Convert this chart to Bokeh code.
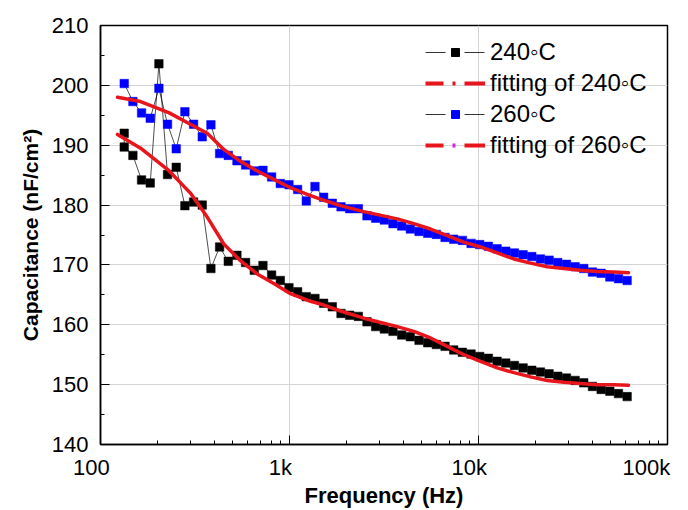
import math
from bokeh.plotting import figure
from bokeh.models import (Range1d, FixedTicker, CustomJSTickFormatter, Legend, LegendItem,
                          ColumnDataSource)
from bokeh.embed import file_html
from bokeh.resources import INLINE

# ---------------- data ----------------
freq = [133.5, 148.4, 164.9, 183.3, 203.7, 226.3, 251.6, 279.6, 310.8, 345.4,
        383.9, 426.7, 474.2, 527.1, 585.8, 651.1, 723.7, 804.3, 894.0, 993.4,
        1104, 1227, 1364, 1516, 1685, 1873, 2081, 2313, 2570, 2857,
        3175, 3529, 3922, 4359, 4845, 5385, 5985, 6653, 7393, 8218,
        9134, 10150, 11280, 12540, 13940, 15490, 17220, 19140, 21270, 23640,
        26270, 29200, 32450, 36060, 40090, 44550, 49520, 55040, 61160]

cap_240 = [192.0, 189.7, 188.3, 184.2, 183.7, 203.6, 185.1, 186.3, 179.9, 180.5, 180.0,
           169.4, 173.0, 170.6, 171.6, 170.4, 169.1, 169.9, 168.3, 167.4, 166.2,
           165.5, 164.7, 164.4, 163.6,
           163.0, 161.9, 161.6, 161.4, 160.5, 159.7, 159.3, 158.9, 158.3, 158.0,
           157.4, 157.0, 156.7, 156.4, 155.8, 155.4, 155.1, 154.7, 154.4, 153.9,
           153.6, 153.2, 152.8, 152.4, 152.1, 151.8, 151.4, 151.1, 150.7, 150.3,
           149.7, 149.2, 148.9, 148.5, 148.0]
freq_240 = freq[:1] + freq   # first frequency was measured twice

cap_260 = [200.3, 197.3, 195.4, 194.5, 199.5, 193.5, 189.4, 195.6, 193.5, 191.4,
           193.4, 188.6, 188.3, 187.4, 186.7, 185.7, 185.8, 184.7, 183.6, 183.4,
           182.6, 180.7, 183.1, 181.3,
           180.3, 179.7, 179.4, 179.4, 178.2, 177.8, 177.5, 176.9, 176.5, 176.0,
           175.6, 175.3, 175.1, 174.6, 174.3, 174.1, 173.6, 173.4, 173.1, 172.7,
           172.3, 172.0, 171.7, 171.4, 171.0, 170.8, 170.4, 170.1, 169.7, 169.4,
           168.8, 168.6, 168.0, 167.7, 167.4]

fit_freq = [123, 163, 231, 299, 367, 449, 550, 675, 826, 1012, 1241, 1519, 1861,
            2473, 3714, 4547, 5572, 6831, 8360, 10250, 12560, 15380, 18840, 23100,
            28270, 34650, 42460, 51980, 62200]
fit_240 = [191.8, 189.5, 185.7, 182.0, 178.0, 173.5, 170.7, 168.5, 166.9, 165.2,
           164.1, 163.3, 162.3, 161.1, 159.7, 158.9, 157.8, 156.4, 155.0, 153.9,
           152.8, 152.0, 151.3, 150.7, 150.4, 150.2, 150.0, 150.0, 149.9]
fit_260 = [198.0, 197.3, 195.4, 193.5, 192.0, 189.3, 187.3, 185.7, 184.3, 182.9,
           181.8, 180.8, 179.9, 178.9, 177.7, 176.9, 176.0, 174.9, 173.8, 173.0,
           172.0, 171.0, 170.3, 169.7, 169.4, 169.1, 168.9, 168.8, 168.7]

x_major = [100, 1000, 10000, 100000]
y_major = [140, 150, 160, 170, 180, 190, 200, 210]

labels = ["240\u25e6C", "fitting of 240\u25e6C", "260\u25e6C", "fitting of 260\u25e6C"]

# ---------------- figure ----------------
FONT = "Liberation Sans"
RED = "#e8161c"

p = figure(width=688, height=510, x_axis_type="log",
           x_range=Range1d(100, 100000), y_range=Range1d(140, 210),
           output_backend="svg", toolbar_location=None,
           min_border_left=100, min_border_right=21, min_border_top=25, min_border_bottom=63)

p.outline_line_color = "black"
p.outline_line_width = 1.5
p.background_fill_color = "white"
p.border_fill_color = "white"

# axes
p.xaxis.ticker = FixedTicker(ticks=x_major,
                             minor_ticks=[m * 10 ** k for k in (2, 3, 4) for m in range(2, 10)])
p.xaxis.formatter = CustomJSTickFormatter(code="""
const t = Math.round(tick);
const s = t >= 1000 ? (t/1000) + 'k' : String(t);
return s + '\\u00a0\\u00a0\\u00a0';
""")
p.yaxis.ticker = FixedTicker(ticks=y_major, minor_ticks=[145, 155, 165, 175, 185, 195, 205])

for ax in (p.xaxis, p.yaxis):
    ax.major_tick_in = 9
    ax.major_tick_out = 0
    ax.minor_tick_in = 4
    ax.minor_tick_out = 0
    ax.axis_line_width = 1.5
    ax.axis_line_color = "black"
    ax.major_tick_line_color = "black"
    ax.minor_tick_line_color = "black"
    ax.major_label_text_font = FONT
    ax.major_label_text_font_size = "22px"
    ax.major_label_text_color = "black"
    ax.axis_label_text_font = FONT
    ax.axis_label_text_font_style = "bold"
    ax.axis_label_text_color = "black"

p.xaxis.axis_label = "Frequency (Hz)"
p.yaxis.axis_label = "Capacitance (nF/cm\u00b2)"
p.xaxis.axis_label_text_font_size = "22px"
p.yaxis.axis_label_text_font_size = "21px"
p.xaxis.major_label_standoff = 10
p.xaxis.axis_label_standoff = 0
p.yaxis.major_label_standoff = 12
p.yaxis.axis_label_standoff = 7

p.xgrid.grid_line_color = "#d4d4d4"
p.ygrid.grid_line_color = "#d4d4d4"
p.xgrid.grid_line_width = 1
p.ygrid.grid_line_width = 1

# data
src240 = ColumnDataSource(dict(f=freq_240, c=cap_240))
src260 = ColumnDataSource(dict(f=freq, c=cap_260))
p.line("f", "c", source=src240, line_color="black", line_width=0.7)
p.line("f", "c", source=src260, line_color="black", line_width=0.7)
p.scatter("f", "c", source=src240, marker="square", size=8.5,
          fill_color="black", line_color="black", line_width=0.5)
p.scatter("f", "c", source=src260, marker="square", size=8.5,
          fill_color="#0000ff", line_color="#0000ff", line_width=0.5)

# fits
p.line(fit_freq, fit_240, line_color=RED, line_width=3.5, line_join="round", line_cap="round")
p.line(fit_freq, fit_260, line_color=RED, line_width=3.5, line_join="round", line_cap="round")

# legend-only renderers
nan = [float("nan")]
lk = p.line(nan, nan, line_color="black", line_width=0.8, line_dash="20 19")
sk = p.scatter(nan, nan, marker="square", size=8, fill_color="black", line_color="black")
lf1 = p.line(nan, nan, line_color=RED, line_width=4, line_dash="18 9 3 9 21 100")
lb = p.line(nan, nan, line_color="black", line_width=0.8, line_dash="20 19")
sb = p.scatter(nan, nan, marker="square", size=8, fill_color="#0000ff", line_color="#0000ff")
lf2 = p.line(nan, nan, line_color=RED, line_width=4, line_dash="18 21 21 100")
lf2m = p.line(nan, nan, line_color="#dd22dd", line_width=4, line_dash="0 27 3 100")

legend = Legend(items=[
    LegendItem(label=labels[0], renderers=[lk, sk]),
    LegendItem(label=labels[1], renderers=[lf1]),
    LegendItem(label=labels[2], renderers=[lb, sb]),
    LegendItem(label=labels[3], renderers=[lf2, lf2m]),
])
legend.location = (325, 285)
legend.glyph_width = 60
legend.glyph_height = 20
legend.label_height = 20
legend.spacing = 3
legend.padding = 0
legend.margin = 0
legend.label_standoff = 5
legend.label_text_font = FONT
legend.label_text_font_size = "24px"
legend.label_text_color = "black"
legend.background_fill_alpha = 0
legend.border_line_alpha = 0
p.add_layout(legend)

open("out.html", "w").write(file_html(p, INLINE))
